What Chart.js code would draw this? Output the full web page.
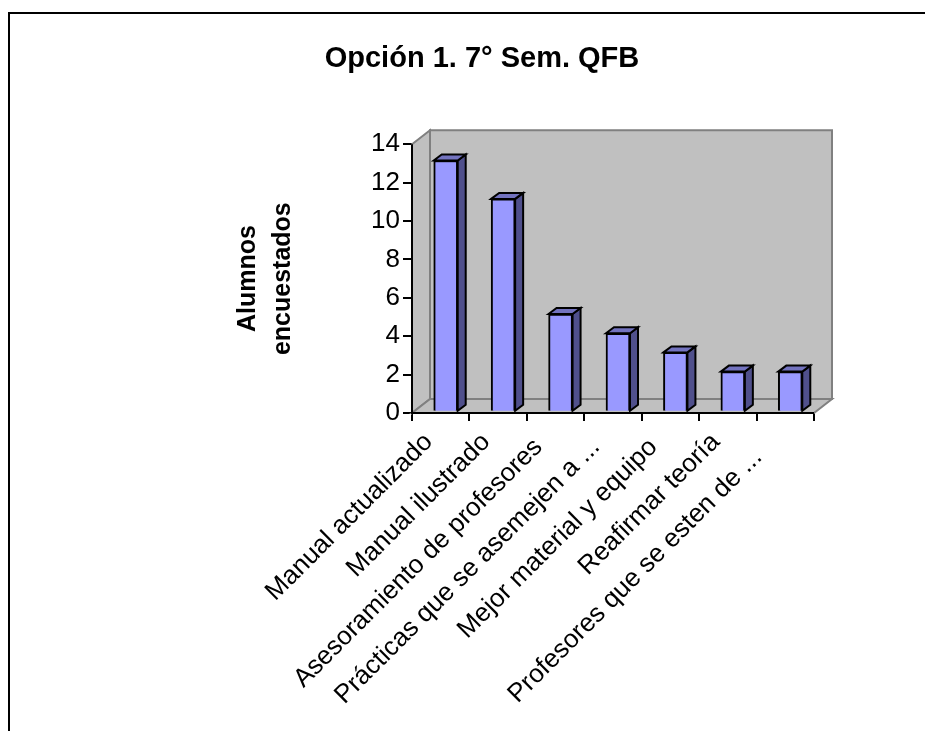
<!DOCTYPE html>
<html><head><meta charset="utf-8">
<style>html,body{margin:0;padding:0;background:#fff}canvas{display:block}#w{position:relative;width:925px;height:731px;overflow:hidden}
#f{position:absolute;left:8px;top:12px;width:1000px;height:800px;border:2px solid #000;box-sizing:border-box}</style>
<script src="https://cdn.jsdelivr.net/npm/chart.js@4"></script></head>
<body><div id="w"><div id="f"></div><canvas id="c" width="925" height="731" style="position:absolute;left:0;top:0"></canvas></div>
<script>
const categories = ["Manual actualizado","Manual ilustrado","Asesoramiento de profesores","Prácticas que se asemejen a ...","Mejor material y equipo","Reafirmar teoría","Profesores que se esten de ..."];
const alumnos = [13,11,5,4,3,2,2];
const titleText = "Opción 1. 7° Sem. QFB";
const yTitle = ["Alumnos","encuestados"];
const labelNudge = [0,0,1,1,1,0,3];
const DX=18,DY=-14,BX=5,BY=-3,SX=8,SY=-6;
const font='"Liberation Sans", Arial, sans-serif';
const poly=(ctx,pts,fill,stroke,lw)=>{ctx.beginPath();pts.forEach((p,i)=>i?ctx.lineTo(p[0],p[1]):ctx.moveTo(p[0],p[1]));ctx.closePath();ctx.fillStyle=fill;ctx.fill();if(stroke){ctx.strokeStyle=stroke;ctx.lineWidth=lw;ctx.stroke();}};
const threeD={id:'threeD',
 beforeDatasetsDraw(chart){const {ctx,chartArea:a}=chart;const L=a.left,R=a.right,T=a.top,B=a.bottom;ctx.save();
  poly(ctx,[[L,T],[L+DX,T+DY],[L+DX,B+DY],[L,B]],'#c0c0c0','#808080',2);
  poly(ctx,[[L+DX,T+DY],[R+DX,T+DY],[R+DX,B+DY],[L+DX,B+DY]],'#c0c0c0','#808080',2);
  poly(ctx,[[L,B],[L+DX,B+DY],[R+DX,B+DY],[R,B]],'#c0c0c0','#808080',2);
  ctx.restore();
  ctx.save();ctx.strokeStyle='#000';ctx.lineWidth=2;ctx.lineJoin='miter';
  ctx.beginPath();ctx.moveTo(L,T);ctx.lineTo(L,B);ctx.lineTo(R,B);ctx.stroke();ctx.restore();},
 beforeDatasetDraw(chart,args){const ctx=chart.ctx;ctx.save();ctx.translate(BX,BY);
  args.meta.data.forEach(b=>{const l=b.x-b.width/2,r=b.x+b.width/2,t=b.y,bt=b.base;
   poly(ctx,[[r,t],[r+SX,t+SY],[r+SX,bt+SY],[r,bt]],'#50508c','#000',2);
   poly(ctx,[[l,t],[l+SX,t+SY],[r+SX,t+SY],[r,t]],'#7373bf','#000',2);});},
 afterDatasetDraw(chart){chart.ctx.restore();}
};
new Chart(document.getElementById('c'),{type:'bar',
 data:{labels:categories,datasets:[{data:alumnos,base:-0.04,clip:false,backgroundColor:'#9999ff',borderColor:'#000',borderWidth:2,barThickness:24}]},
 plugins:[threeD],
 options:{responsive:false,animation:false,
  layout:{padding:{left:150,right:111,top:0,bottom:0}},
  plugins:{legend:{display:false},tooltip:{enabled:false},
   title:{display:true,text:titleText,color:'#000',font:{family:font,size:29,weight:'bold',lineHeight:1.2},padding:{top:42,bottom:67.5}}},
  scales:{
   x:{afterFit(s){s.height=318;},grid:{display:true,drawOnChartArea:false,drawTicks:true,tickLength:8,color:'#000',lineWidth:2,offset:true},border:{display:false},
      ticks:{color:'#000',font:{family:font,size:26},maxRotation:45,minRotation:45,autoSkip:false,padding:6,labelOffset:-12,
       callback(v,i){return this.getLabelForValue(v)+' '.repeat(labelNudge[i]);}}},
   y:{afterFit(s){s.width=262;},min:0,max:14,ticks:{stepSize:2,color:'#000',font:{family:font,size:26},padding:3},
      grid:{drawOnChartArea:false,color:'#000',lineWidth:2,tickLength:9},border:{display:false},
      title:{display:true,text:yTitle,color:'#000',font:{family:font,size:25,weight:'bold',lineHeight:1.4},padding:{top:81,bottom:81}}}
  }
 }
});
</script></body></html>
